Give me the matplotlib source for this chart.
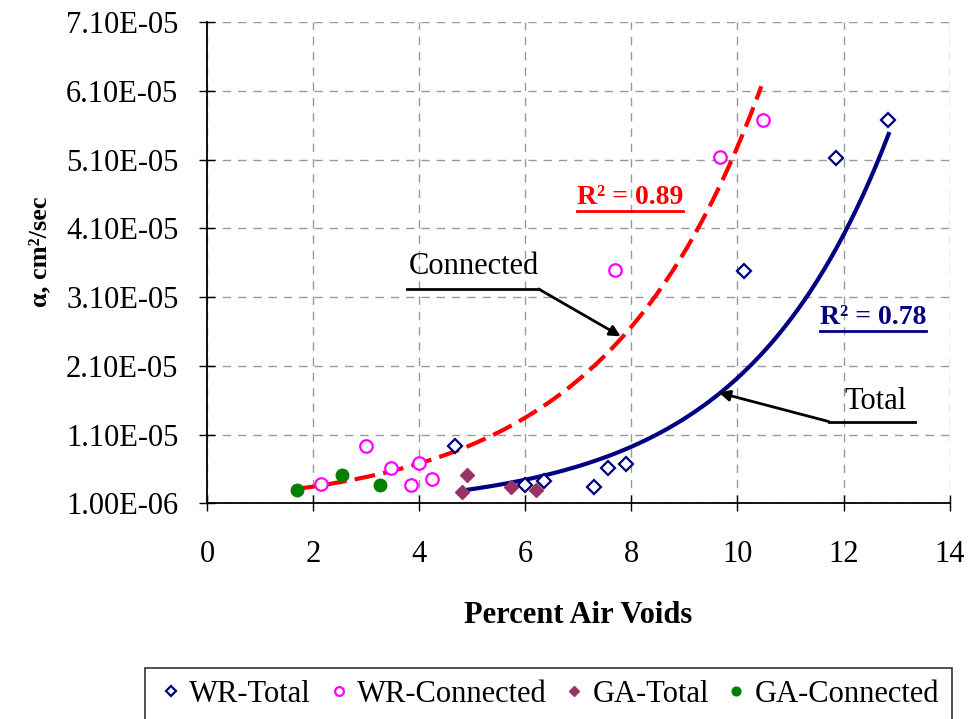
import numpy as np
import matplotlib.pyplot as plt

plt.rcParams['font.family'] = ['Liberation Serif', 'DejaVu Serif']

# data
wr_total_x = [4.68, 6.0, 6.36, 7.3, 7.56, 7.9, 10.13, 11.85, 12.84]
wr_total_y = [9.3e-6, 3.6e-6, 4.2e-6, 3.3e-6, 6.1e-6, 6.7e-6, 3.48e-5, 5.13e-5, 5.68e-5]
wr_conn_x = [2.15, 2.99, 3.47, 3.84, 3.99, 4.25, 7.69, 9.68, 10.49]
wr_conn_y = [3.75e-6, 9.4e-6, 6.2e-6, 3.6e-6, 6.8e-6, 4.5e-6, 3.49e-5, 5.14e-5, 5.68e-5]
ga_total_x = [4.8, 4.91, 5.73, 6.2]
ga_total_y = [2.7e-6, 5.1e-6, 3.3e-6, 2.9e-6]
ga_conn_x = [1.7, 2.54, 3.27]
ga_conn_y = [3.0e-6, 5.1e-6, 3.6e-6]

# exponential trendlines (y = a*exp(b*x)) as drawn
conn_a, conn_b, conn_range = 1.73e-6, 0.342, (1.7, 10.45)
tot_a, tot_b, tot_range = 4.9e-7, 0.367, (4.8, 12.85)
conn_r2 = 'R² = 0.89'
tot_r2 = 'R² = 0.78'

navy = '#000080'
red = '#FF0000'

fig = plt.figure(figsize=(9.73, 7.19), dpi=100)
ax = fig.add_axes([0.2127, 0.300, 0.7633, 0.669])

xc = np.linspace(*conn_range, 200)
ax.plot(xc, conn_a*np.exp(conn_b*xc), color=red, lw=3, ls=(0, (5, 2)), zorder=2)
xt = np.linspace(*tot_range, 200)
ax.plot(xt, tot_a*np.exp(tot_b*xt), color=navy, lw=3, zorder=2)

ax.plot(wr_total_x, wr_total_y, 'D', ms=7, mfc='white', mec=navy, mew=1.6,
        ls='none', label='WR-Total', zorder=3)
ax.plot(wr_conn_x, wr_conn_y, 'o', ms=9, mfc='white', mec='#FF00FF', mew=1.6,
        ls='none', label='WR-Connected', zorder=3)
ax.plot(ga_total_x, ga_total_y, 'D', ms=7.5, color='#993366',
        ls='none', label='GA-Total', zorder=3)
ax.plot(ga_conn_x, ga_conn_y, 'o', ms=9, color='#008000',
        ls='none', label='GA-Connected', zorder=3)

ax.set_xlim(0, 14)
ax.set_ylim(1.0e-6, 7.1e-5)
ax.set_xticks(range(0, 15, 2))
yt = np.arange(1.0e-6, 7.11e-5, 1.0e-5)
ax.set_yticks(yt)
ax.set_yticklabels(['%.2fE-%02d' % (v*1e5, 5) if v >= 1e-5 else '1.00E-06' for v in yt])
ax.tick_params(labelsize=22, length=11, width=1, direction='inout')
ax.tick_params(axis='x', pad=21)
ax.tick_params(axis='y', pad=15)
ax.grid(True, color='#999999', ls=(0, (6, 5)), lw=1)
ax.set_axisbelow(True)
for s in ['top', 'right']:
    ax.spines[s].set_visible(False)
for s in ['left', 'bottom']:
    ax.spines[s].set_linewidth(1.3)

ax.set_xlabel('Percent Air Voids', fontsize=22, fontweight='bold', labelpad=23)
ax.set_ylabel('α, cm²/sec', fontsize=19, fontweight='bold')
ax.yaxis.set_label_coords(-0.21, 0.524)

# annotations
ax.text(5.04, 3.55e-5, 'Connected', fontsize=22, ha='center', va='center')
ax.plot([3.77, 6.25], [3.22e-5, 3.22e-5], color='black', lw=2)
ax.annotate('', xy=(7.8, 2.53e-5), xytext=(6.25, 3.22e-5),
            arrowprops=dict(arrowstyle='-|>', color='black', lw=2, mutation_scale=16,
                            shrinkA=0, shrinkB=0))
ax.text(12.6, 1.58e-5, 'Total', fontsize=22, ha='center', va='center')
ax.plot([11.72, 13.34], [1.29e-5, 1.29e-5], color='black', lw=2)
ax.annotate('', xy=(9.65, 1.71e-5), xytext=(11.72, 1.29e-5),
            arrowprops=dict(arrowstyle='-|>', color='black', lw=2, mutation_scale=16,
                            shrinkA=0, shrinkB=0))

t1 = ax.text(7.97, 4.55e-5, conn_r2, fontsize=20, fontweight='bold', color=red,
             ha='center', va='center')
t2 = ax.text(12.56, 2.8e-5, tot_r2, fontsize=20, fontweight='bold', color=navy,
             ha='center', va='center')
fig.canvas.draw()
inv = ax.transData.inverted()
for t in (t1, t2):
    bb = t.get_window_extent()
    (x0, y0), (x1, _) = inv.transform([(bb.x0, bb.y0 - 1), (bb.x1, bb.y0 - 1)])
    ax.plot([x0, x1], [y0, y0], color=t.get_color(), lw=2, clip_on=False)

leg = fig.legend(loc='upper center', bbox_to_anchor=(0.5635, 0.071), ncol=4, fontsize=22,
                 frameon=True, fancybox=False, edgecolor='black', handletextpad=0.15,
                 columnspacing=0.45, markerscale=0.7, handlelength=0.9,
                 borderpad=0.4, borderaxespad=0)
leg.get_frame().set_linewidth(1.2)

fig.savefig('out.png', dpi=100)
